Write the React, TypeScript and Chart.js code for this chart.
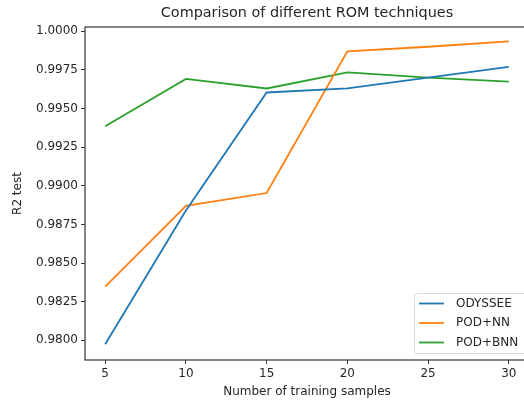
import React, { useEffect, useRef } from "react";
import { Chart, registerables } from "chart.js";

Chart.register(...registerables);

const samples = [5, 10, 15, 20, 25, 30];
const odyssee = [0.97974, 0.9884, 0.99604, 0.9963, 0.997, 0.9977];
const podNN = [0.98347, 0.9887, 0.98953, 0.99871, 0.999, 0.99935];
const podBNN = [0.99385, 0.99692, 0.9963, 0.99734, 0.997, 0.99674];
const seriesNames = ["ODYSSEE", "POD+NN", "POD+BNN"];
const seriesColors = ["#1f77b4", "#ff7f0e", "#2ca02c"];
const xTicks = [5, 10, 15, 20, 25, 30];
const yTicks = [0.98, 0.9825, 0.985, 0.9875, 0.99, 0.9925, 0.995, 0.9975, 1.0];
const titleText = "Comparison of different ROM techniques";
const xLabel = "Number of training samples";
const yLabel = "R2 test";

const FONT = "DejaVu Sans";
const TEXT = "#262626";

const decorPlugin = {
  id: "decor",
  afterDraw(chart: any) {
    const ctx = chart.ctx;
    const a = chart.chartArea;
    ctx.save();
    // frame
    ctx.strokeStyle = "#333";
    ctx.lineWidth = 1.2;
    ctx.strokeRect(a.left, a.top, a.right - a.left, a.bottom - a.top);
    // title
    ctx.fillStyle = TEXT;
    ctx.font = `14.4px "${FONT}"`;
    ctx.textAlign = "center";
    ctx.textBaseline = "middle";
    ctx.fillText(titleText, (a.left + a.right) / 2, 13);
    // axis labels
    ctx.font = `12px "${FONT}"`;
    ctx.fillText(xLabel, (a.left + a.right) / 2, 392);
    ctx.save();
    ctx.translate(18, (a.top + a.bottom) / 2);
    ctx.rotate(-Math.PI / 2);
    ctx.fillText(yLabel, 0, 0);
    ctx.restore();
    // legend
    const bx = 414.5, by = 293.5, bw = 120, bh = 60;
    ctx.fillStyle = "rgba(255,255,255,0.8)";
    ctx.strokeStyle = "#d8d8d8";
    ctx.lineWidth = 1;
    ctx.beginPath();
    const r = 3;
    ctx.moveTo(bx + r, by);
    ctx.lineTo(bx + bw - r, by);
    ctx.quadraticCurveTo(bx + bw, by, bx + bw, by + r);
    ctx.lineTo(bx + bw, by + bh - r);
    ctx.quadraticCurveTo(bx + bw, by + bh, bx + bw - r, by + bh);
    ctx.lineTo(bx + r, by + bh);
    ctx.quadraticCurveTo(bx, by + bh, bx, by + bh - r);
    ctx.lineTo(bx, by + r);
    ctx.quadraticCurveTo(bx, by, bx + r, by);
    ctx.fill();
    ctx.stroke();
    ctx.textAlign = "left";
    chart.data.datasets.forEach((ds: any, i: number) => {
      const yy = 303.5 + i * 19.5;
      ctx.strokeStyle = ds.borderColor;
      ctx.lineWidth = 1.8;
      ctx.beginPath();
      ctx.moveTo(419, yy);
      ctx.lineTo(444, yy);
      ctx.stroke();
      ctx.fillStyle = TEXT;
      ctx.fillText(ds.label, 456, yy);
    });
    ctx.restore();
  },
};

export default function App() {
  const ref = useRef<HTMLCanvasElement | null>(null);
  useEffect(() => {
    if (!ref.current) return;
    const series = [odyssee, podNN, podBNN];
    const chart = new Chart(ref.current, {
      type: "line",
      data: {
        datasets: series.map((vals, i) => ({
          label: seriesNames[i],
          data: samples.map((x, j) => ({ x, y: vals[j] })),
          borderColor: seriesColors[i],
          backgroundColor: seriesColors[i],
          borderWidth: 1.8,
          pointRadius: 0,
          tension: 0,
          fill: false,
        })),
      },
      options: {
        animation: false,
        responsive: false,
        maintainAspectRatio: false,
        layout: { padding: { top: 27, right: 11, left: 0, bottom: 0 } },
        plugins: {
          legend: { display: false },
          title: { display: false },
          tooltip: { enabled: false },
        },
        scales: {
          x: {
            type: "linear",
            min: 3.75,
            max: 31.25,
            afterBuildTicks: (s: any) => {
              s.ticks = xTicks.map((v) => ({ value: v }));
            },
            afterFit: (s: any) => {
              s.height = 43;
            },
            grid: { drawOnChartArea: false, drawTicks: true, tickLength: 4, color: "#333" },
            border: { display: false },
            ticks: {
              color: TEXT,
              font: { family: FONT, size: 12 },
              padding: 3,
              maxRotation: 0,
              autoSkip: false,
              callback: (v: any) => String(v),
            },
          },
          y: {
            type: "linear",
            min: 0.97872,
            max: 1.00028,
            afterBuildTicks: (s: any) => {
              s.ticks = yTicks.map((v) => ({ value: v }));
            },
            afterFit: (s: any) => {
              s.width = 85;
            },
            grid: { drawOnChartArea: false, drawTicks: true, tickLength: 4, color: "#333" },
            border: { display: false },
            ticks: {
              color: TEXT,
              font: { family: FONT, size: 12 },
              padding: 3,
              autoSkip: false,
              callback: (v: any) => Number(v).toFixed(4),
            },
          },
        },
      },
      plugins: [decorPlugin],
    } as any);
    return () => chart.destroy();
  }, []);
  return (
    <div style={{ position: "fixed", left: 0, top: 0, width: 524, height: 403, overflow: "hidden", background: "#fff" }}>
      <canvas ref={ref} width={540} height={403} style={{ display: "block", width: 540, height: 403 }} />
    </div>
  );
}
